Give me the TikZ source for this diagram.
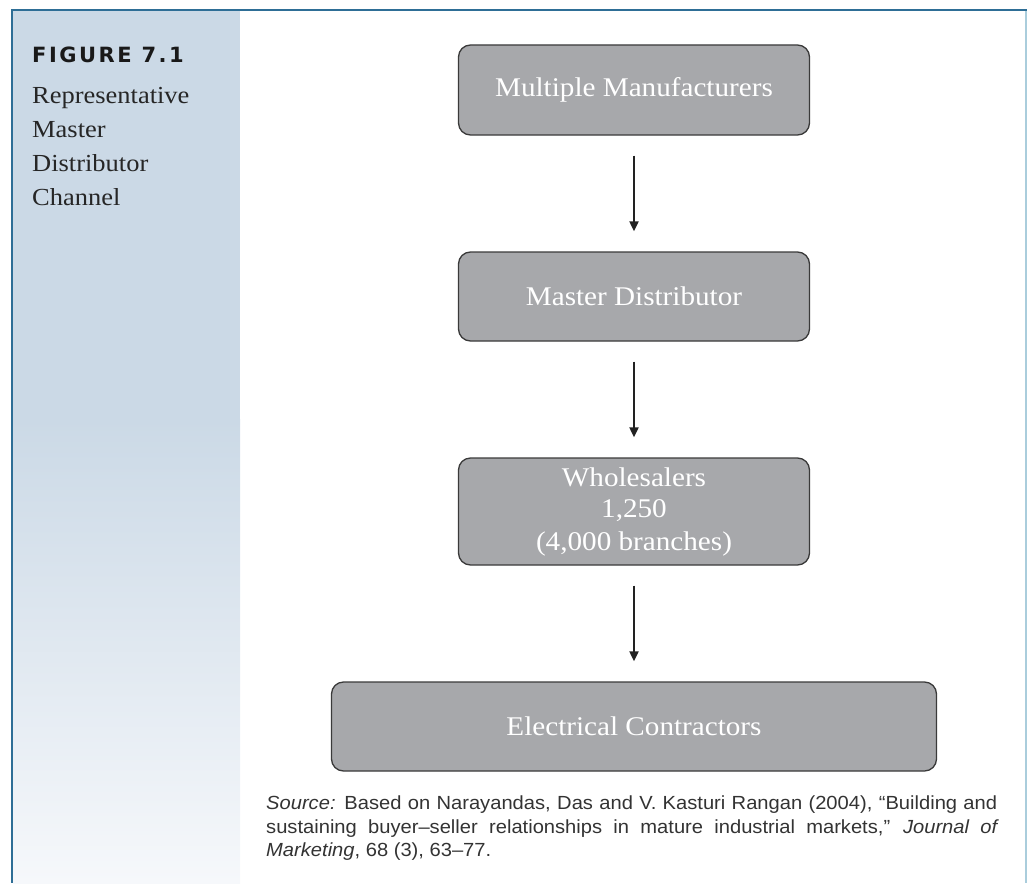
\documentclass[tikz,border=0pt]{standalone}
\usepackage{fontspec}
\setmainfont[FakeStretch=1.08]{Liberation Serif}
\newfontfamily\headfont[LetterSpace=12]{DejaVu Sans}
\newfontfamily\notefont[FakeStretch=1.06]{Liberation Sans}
\usetikzlibrary{arrows.meta}

\definecolor{framecol}{HTML}{2E6E96}
\definecolor{rightcol}{HTML}{AACDDC}
\definecolor{sidebar}{HTML}{CBD9E6}
\definecolor{sidebarlow}{HTML}{F6F8FB}
\definecolor{boxfill}{HTML}{A7A8AB}
\definecolor{boxline}{HTML}{3A3A3A}
\definecolor{arrowcol}{HTML}{222222}
\definecolor{notecol}{HTML}{333333}

\tikzset{
  stage/.style={draw=boxline, fill=boxfill, line width=1.3pt,
    rounded corners=12pt, text=white, align=center, inner sep=0pt,
    font=\fontsize{27}{32}\selectfont},
  flow/.style={-{Triangle[width=9pt,length=10pt]}, line width=2pt,
    draw=arrowcol, shorten <=20pt, shorten >=20pt}
}

\begin{document}
\begin{tikzpicture}[x=1pt,y=-1pt]
  \useasboundingbox (0,0) rectangle (1027,883);

  % side panel with its fading lower part
  \fill[sidebar] (13,11) rectangle (240,420);
  \shade[top color=sidebar, bottom color=sidebarlow] (13,419.5) rectangle (240,883);

  % frame lines
  \draw[line width=2.5pt, framecol] (10.75,10) -- (1027,10);
  \draw[line width=2.5pt, framecol] (12,10) -- (12,883);
  \draw[line width=1.5pt, rightcol] (1026,11) -- (1026,883);

  % figure label and title
  \node[anchor=base west, inner sep=0pt, font=\headfont\bfseries\fontsize{21}{24}\selectfont, text=black!90]
    (figno) at (32,63) {FIGURE 7.1};
  \node[anchor=north west, inner sep=0pt, align=left, text=black!85,
    font=\fontsize{24.5}{34}\selectfont]
    (title) at (32,87) {Representative\\Master\\Distributor\\Channel};

  % channel stages
  \node[stage, minimum width=351pt, minimum height=90pt] (mfr) at (634,90)
    {Multiple Manufacturers};
  \node[stage, minimum width=351pt, minimum height=89pt] (dist) at (634,296.5)
    {Master Distributor};
  \node[stage, minimum width=351pt, minimum height=107pt] (whl) at (634,511.5)
    {Wholesalers\\1,250\\(4,000 branches)};
  \node[stage, minimum width=605pt, minimum height=89pt] (ec) at (634,726.5)
    {Electrical Contractors};

  % flow between stages
  \draw[flow] (mfr) -- (dist);
  \draw[flow] (dist) -- (whl);
  \draw[flow] (whl) -- (ec);

  % source note
  \node[anchor=north west, inner sep=0pt, text width=731pt, align=justify,
    text=notecol, font=\notefont\fontsize{19}{23.5}\selectfont]
    (src) at (266,796)
    {\hyphenpenalty=10000 \textit{Source:} Based on Narayandas, Das and V. Kasturi Rangan (2004), “Building and\linebreak
     sustaining buyer–seller relationships in mature industrial markets,” \textit{Journal of\linebreak
     Marketing}, 68 (3), 63–77.};
\end{tikzpicture}
\end{document}
